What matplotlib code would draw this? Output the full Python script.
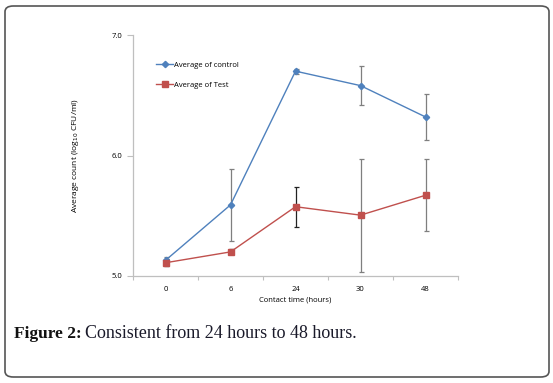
import matplotlib
matplotlib.use("Agg")
import matplotlib.pyplot as plt
from matplotlib.patches import FancyBboxPatch
import numpy as np

categories = ["0", "6", "24", "30", "48"]
control_mean = [5.13, 5.59, 6.70, 6.58, 6.32]
control_err = [0.03, 0.30, 0.02, 0.165, 0.19]
test_mean = [5.11, 5.20, 5.575, 5.505, 5.67]
test_err = [0.03, 0.02, 0.165, 0.47, 0.30]
test_err_dark = [True, True, True, False, False]
yticks = [5.0, 6.0, 7.0]

plt.rcParams['font.family'] = ['Open Sans', 'DejaVu Sans']

fig = plt.figure(figsize=(5.53, 3.83), dpi=100)
ax = fig.add_axes([133/553, 1-276/383, 325/553, 241/383])

x = np.arange(len(categories))
blue = '#4F81BD'
red = '#C0504D'

ax.errorbar(x, control_mean, yerr=control_err, fmt='none', ecolor='#7f7f7f',
            elinewidth=0.9, capsize=1.8, capthick=0.9, zorder=2)
te = np.array(test_err)
dark = np.array(test_err_dark)
ax.errorbar(x[~dark], np.array(test_mean)[~dark], yerr=te[~dark], fmt='none', ecolor='#7f7f7f',
            elinewidth=0.9, capsize=1.8, capthick=0.9, zorder=2)
ax.errorbar(x[dark], np.array(test_mean)[dark], yerr=te[dark], fmt='none', ecolor='#222222',
            elinewidth=0.9, capsize=1.8, capthick=0.9, zorder=2)

ax.plot(x, control_mean, color=blue, lw=1.0, marker='D', ms=3.2, mec=blue, mfc=blue,
        label='Average of control', zorder=3)
ax.plot(x, test_mean, color=red, lw=1.0, marker='s', ms=4.2, mec=red, mfc=red,
        label='Average of Test', zorder=3)

ax.set_xlim(-0.5, len(categories) - 0.5)
ax.set_ylim(5.0, 7.0)
ax.set_yticks(yticks)
ax.set_yticklabels([f"{v:.1f}" for v in yticks], fontsize=5.5)
ax.set_xticks(x)
ax.set_xticklabels(categories, fontsize=5.5)
ax.set_xticks(np.arange(-0.5, len(categories)), minor=True)
ax.tick_params(axis='x', which='major', length=0, pad=7)
ax.tick_params(axis='x', which='minor', length=3, color='#bfbfbf', width=0.8)
ax.tick_params(axis='y', length=4, color='#bfbfbf', width=0.8, pad=4)

for s in ['top', 'right']:
    ax.spines[s].set_visible(False)
for s in ['left', 'bottom']:
    ax.spines[s].set_color('#bfbfbf')
    ax.spines[s].set_linewidth(0.9)

ax.set_xlabel('Contact time (hours)', fontsize=5.5, labelpad=3)
ax.set_ylabel('Average count (log$_{10}$ CFU/ml)', fontsize=6, labelpad=22)

ax.legend(loc='upper left', bbox_to_anchor=(0.05, 0.92), frameon=False,
          fontsize=5.5, labelspacing=1.7, handlelength=2.2, handletextpad=0.1)

# rounded border
border = FancyBboxPatch((5/553, 6/383), 544/553, 371/383,
                        boxstyle="round,pad=0,rounding_size=0.015",
                        transform=fig.transFigure, fill=False,
                        edgecolor='#555555', linewidth=1.2)
fig.patches.append(border)

t1 = fig.text(14/553, 1-338/383, 'Figure 2:', fontsize=12.5, fontweight='bold',
              family='Liberation Serif', va='baseline', ha='left', color='#111111')
fig.canvas.draw()
bb = t1.get_window_extent(renderer=fig.canvas.get_renderer())
x1 = bb.x1 / fig.bbox.width + 3/553
fig.text(x1, 1-338/383, 'Consistent from 24 hours to 48 hours.', fontsize=13,
         family='Liberation Serif', va='baseline', ha='left', color='#1a1a2a')

fig.savefig('out.png', dpi=100)
